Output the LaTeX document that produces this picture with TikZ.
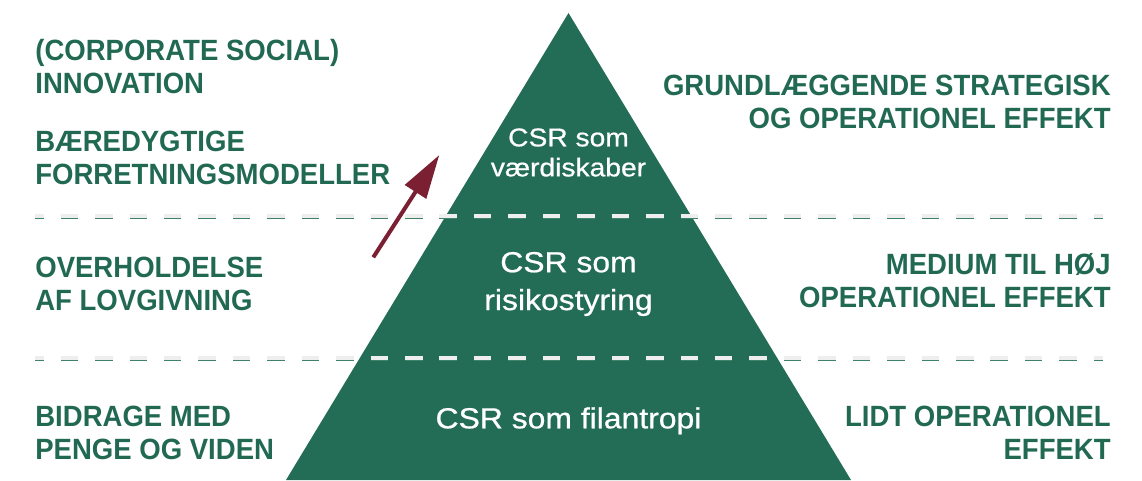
\documentclass[tikz,border=0pt]{standalone}
\usepackage{fontspec}
\setmainfont{Liberation Sans}
\newfontfamily\labelfont[FakeStretch=0.94]{Liberation Sans}
\newfontfamily\pyrfont[FakeStretch=1.1, FakeBold=0.7]{Liberation Sans}
\usetikzlibrary{arrows.meta}

\definecolor{csrgreen}{RGB}{35,108,85}
\definecolor{csrtext}{RGB}{33,105,82}
\definecolor{csrred}{RGB}{122,32,50}
\definecolor{dashgray}{RGB}{238,238,238}
\definecolor{dashshadow}{RGB}{62,130,104}

\tikzset{
  labelL/.style={anchor=west, align=left, inner sep=0pt, text=csrtext,
    font=\labelfont\bfseries\fontsize{16.67}{18.8}\selectfont},
  labelR/.style={labelL, anchor=east, align=right},
  pyrtext/.style={align=center, inner sep=0pt, text=white,
    font=\pyrfont\fontsize{16.5}{21.5}\selectfont},
  pyrsmall/.style={pyrtext, font=\pyrfont\fontsize{14.6}{17.1}\selectfont},
  levelline/.style={line width=2.3pt, dash pattern=on 9.96pt off 9.64pt, dash phase=4.98pt},
}

\begin{document}
\begin{tikzpicture}[x=0.02cm, y=-0.02cm]
    % Cadre : 1142 x 480 (pixels)
    \useasboundingbox (0,0) rectangle (1142,480);

    % Pyramide
    \fill[csrgreen] (568.5,13) -- (851,480) -- (286,480) -- cycle;

    % Lignes de niveau (ombre verte puis tirets clairs)
    \foreach \yy in {216,358} {
      \draw[levelline, dashshadow] (35,\yy+1.3) -- (1103,\yy+1.3);
      \draw[levelline, dashgray] (35,\yy) -- (1103,\yy);
    }

    % Textes dans la pyramide
    \node[pyrsmall] (vaerdi) at (568.5,152.5) {CSR som\\værdiskaber};
    \node[pyrtext] (risiko) at (568.5,284) {CSR som\\risikostyring};
    \node[pyrtext, anchor=base] (filan) at (568.5,428.3) {CSR som filantropi};

    % Colonne de gauche
    \node[labelL] (innov) at (35,67) {(CORPORATE SOCIAL)\\INNOVATION};
    \node[labelL] (model) at (35,158) {BÆREDYGTIGE\\FORRETNINGSMODELLER};
    \node[labelL] (lov) at (35,284) {OVERHOLDELSE\\AF LOVGIVNING};
    \node[labelL] (penge) at (35,432.5) {BIDRAGE MED\\PENGE OG VIDEN};

    % Colonne de droite
    \node[labelR] (strat) at (1111,101.7) {GRUNDLÆGGENDE STRATEGISK\\OG OPERATIONEL EFFEKT};
    \node[labelR] (medium) at (1111,281) {MEDIUM TIL HØJ\\OPERATIONEL EFFEKT};
    \node[labelR] (lidt) at (1111,432.5) {LIDT OPERATIONEL\\EFFEKT};

    % Fleche
    \coordinate (arrowtail) at (373.3,257.3);
    \coordinate (arrowtip) at (439.3,155);
    \draw[-{Triangle[length=25pt,width=14pt]}, line width=2.3pt, csrred] (arrowtail) -- (arrowtip);
\end{tikzpicture}
\end{document}
